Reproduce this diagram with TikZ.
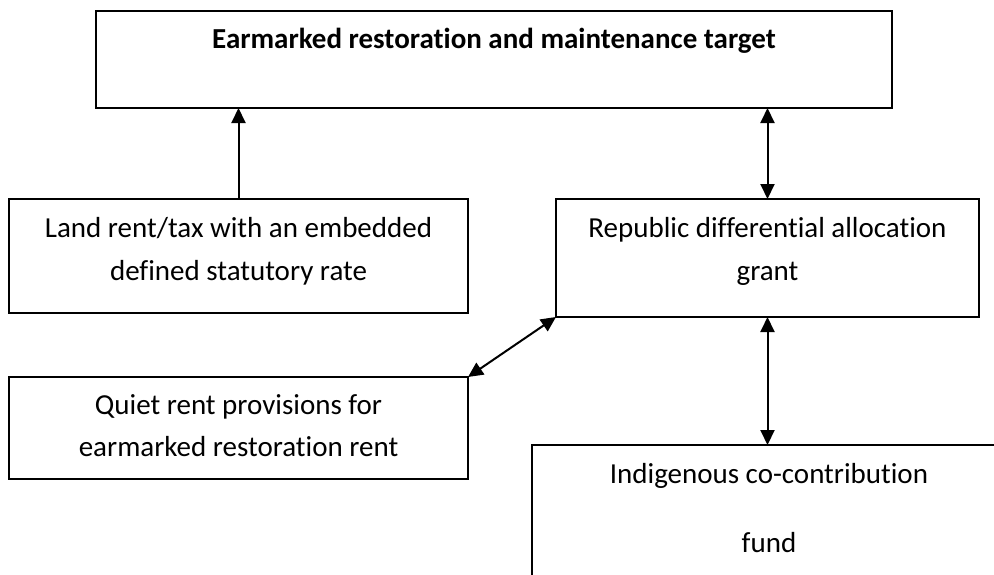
\documentclass[tikz,border=0pt]{standalone}
\usepackage{fontspec}
\setmainfont[RawFeature={-liga;-clig;-dlig;-calt}]{Carlito}
\usetikzlibrary{arrows.meta}
\begin{document}
\begin{tikzpicture}[x=1pt,y=1pt,
  box/.style={draw, line width=2.2pt, rectangle, anchor=north west, inner sep=0pt, outer sep=0pt},
  lbl/.style={anchor=base, inner sep=0pt, font=\fontsize{29}{34}\selectfont},
  ttl/.style={anchor=base, inner sep=0pt, font=\fontsize{29}{34}\selectfont\bfseries},
  link/.style={line width=2pt, {Triangle[length=15pt,width=14pt]}-{Triangle[length=15pt,width=14pt]}},
  uplink/.style={line width=2pt, -{Triangle[length=15pt,width=14pt]}}]
\useasboundingbox (0,0) rectangle (994,-574);
\fill[white] (0,0) rectangle (994,-574);
% boxes
\node[box, minimum width=796pt, minimum height=97pt] (target) at (96,-11) {};
\node[box, minimum width=459pt, minimum height=114pt] (land) at (9,-199) {};
\node[box, minimum width=423pt, minimum height=118pt] (rep) at (556,-199) {};
\node[box, minimum width=459pt, minimum height=102pt] (quiet) at (9,-377) {};
\node[box, minimum width=474pt, minimum height=160pt] (ind) at (532,-445) {};
% texts
\node[ttl] (t1) at (494,-48) {Earmarked restoration and maintenance target};
\node[lbl] (l1) at (238.5,-237) {Land rent/tax with an embedded};
\node[lbl] (l2) at (238.5,-280) {defined statutory rate};
\node[lbl] (r1) at (767.5,-237) {Republic differential allocation};
\node[lbl] (r2) at (767.5,-280) {grant};
\node[lbl] (q1) at (238.5,-414) {Quiet rent provisions for};
\node[lbl] (q2) at (238.5,-456) {earmarked restoration rent};
\node[lbl] (i1) at (769,-483) {Indigenous co-contribution};
\node[lbl] (i2) at (769,-552) {fund};
% connectors
\draw[uplink] (land.north) -- (land.north |- target.south);
\draw[link] (rep.north) -- (rep.north |- target.south);
\draw[link] (rep.south) -- (rep.south |- ind.north);
\draw[link] (quiet.north east) -- (rep.south west);
\end{tikzpicture}
\end{document}
